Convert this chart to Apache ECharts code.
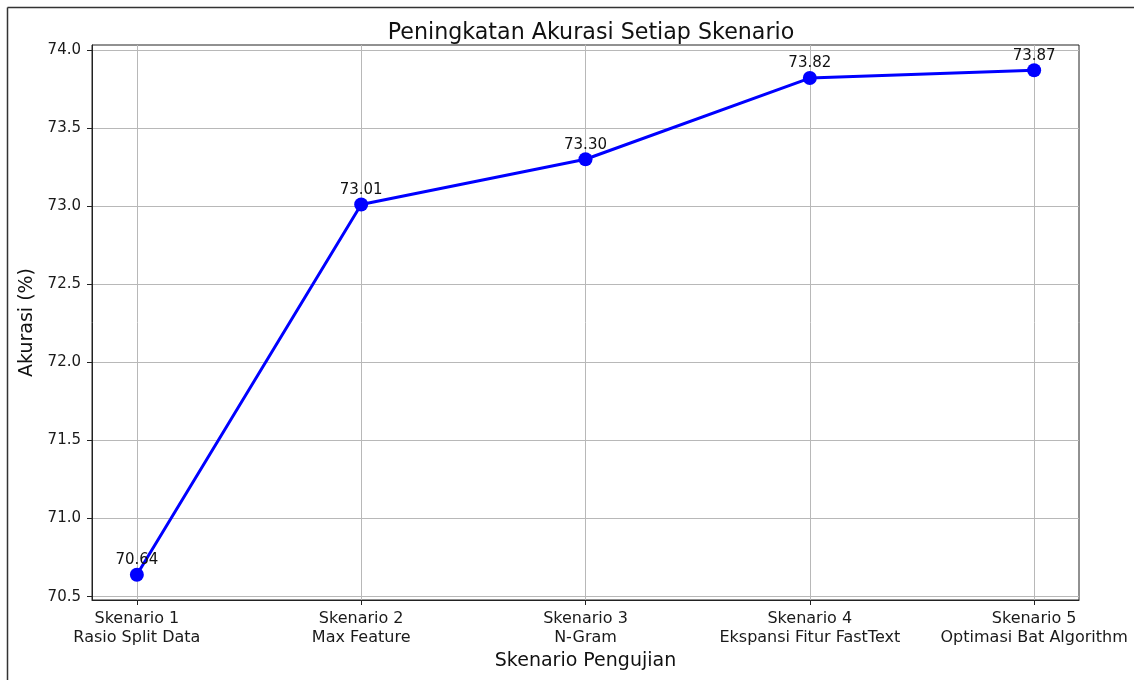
<!DOCTYPE html>
<html>
<head>
<meta charset="utf-8">
<script src="https://cdn.jsdelivr.net/npm/echarts@6/dist/echarts.min.js"></script>
<style>html,body{margin:0;padding:0;background:#fff;}#c{width:1134px;height:680px;}</style>
</head>
<body>
<div id="c"></div>
<script>
const scenarios = ['Skenario 1', 'Skenario 2', 'Skenario 3', 'Skenario 4', 'Skenario 5'];
const descriptions = ['Rasio Split Data', 'Max Feature', 'N-Gram', 'Ekspansi Fitur FastText', 'Optimasi Bat Algorithm'];
const accuracy = [70.64, 73.01, 73.30, 73.82, 73.87];
const yTicks = [70.5, 71.0, 71.5, 72.0, 72.5, 73.0, 73.5, 74.0];
const xTicks = [0, 1, 2, 3, 4];

const FONT = 'DejaVu Sans';
const chart = echarts.init(document.getElementById('c'), null, {renderer: 'canvas'});

const seriesData = accuracy.map((v, i) => [xTicks[i], v]);
const yMin = Math.min(...accuracy), yMax = Math.max(...accuracy);
const yPad = (yMax - yMin) * 0.05;

chart.setOption({
  animation: false,
  backgroundColor: '#fff',
  title: {
    text: 'Peningkatan Akurasi Setiap Skenario',
    left: 586, textAlign: 'center', top: 17,
    textStyle: {fontFamily: FONT, fontSize: 22.2, fontWeight: 'normal', color: '#111'}
  },
  grid: {left: 92, top: 45, width: 987, height: 555, show: true, borderColor: '#222', borderWidth: 1, backgroundColor: 'transparent'},
  xAxis: {
    type: 'value', min: -0.2, max: 4.2,
    name: 'Skenario Pengujian', nameLocation: 'middle', nameGap: 51,
    nameTextStyle: {fontFamily: FONT, fontSize: 19, color: '#111'},
    axisLine: {show: true, onZero: false, lineStyle: {color: '#222', width: 1}},
    axisTick: {show: true, customValues: xTicks, length: 5, lineStyle: {color: '#222'}},
    axisLabel: {
      customValues: xTicks, margin: 9, fontFamily: FONT, fontSize: 16, color: '#1a1a1a', lineHeight: 19,
      formatter: v => { const i = Math.round(v); return scenarios[i] + '\n' + descriptions[i]; }
    },
    splitLine: {show: true, lineStyle: {color: '#b8b8b8', width: 1}}
  },
  yAxis: {
    type: 'value', min: yMin - yPad, max: yMax + yPad,
    name: 'Akurasi (%)', nameLocation: 'middle', nameGap: 54,
    nameTextStyle: {fontFamily: FONT, fontSize: 19, color: '#111'},
    axisLine: {show: true, onZero: false, lineStyle: {color: '#222', width: 1}},
    axisTick: {show: true, customValues: yTicks, length: 5, lineStyle: {color: '#222'}},
    axisLabel: {customValues: yTicks, margin: 11, fontFamily: FONT, fontSize: 15, color: '#1a1a1a', formatter: v => v.toFixed(1)},
    splitLine: {show: true, lineStyle: {color: '#b8b8b8', width: 1}}
  },
  series: [{
    type: 'line',
    data: seriesData,
    symbol: 'circle', symbolSize: 14,
    lineStyle: {color: '#0000ff', width: 3},
    itemStyle: {color: '#0000ff'},
    label: {
      show: true, position: 'top', distance: 0,
      fontFamily: FONT, fontSize: 15, color: '#111',
      formatter: p => p.value[1].toFixed(2)
    },
    z: 5
  }],
  graphic: [
    {type: 'line', shape: {x1: 7.5, y1: 7.5, x2: 1134, y2: 7.5}, style: {stroke: '#333', lineWidth: 1.5}},
    {type: 'line', shape: {x1: 7.5, y1: 7.5, x2: 7.5, y2: 680}, style: {stroke: '#333', lineWidth: 1.5}}
  ]
});
</script>
</body>
</html>
